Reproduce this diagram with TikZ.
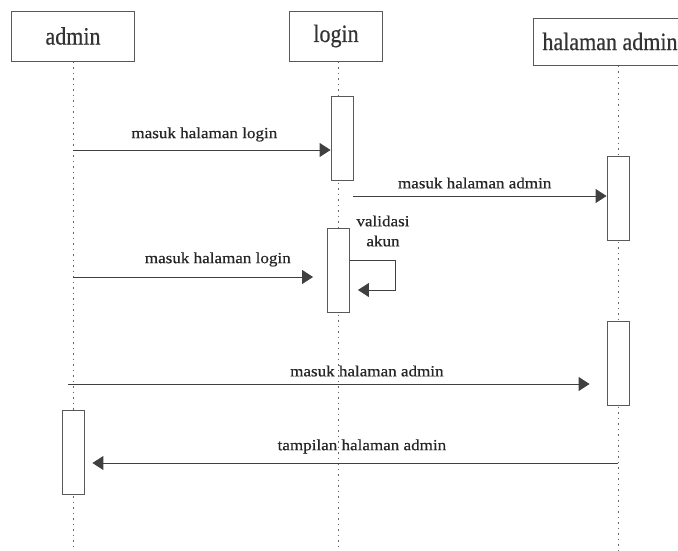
\documentclass[tikz,border=0pt]{standalone}
\usepackage{fontspec}
\setmainfont{Liberation Serif}
\newfontfamily\headfont{Liberation Serif}[FakeStretch=0.88,FakeBold=0.6]
\newfontfamily\msgfont{Liberation Serif}[FakeStretch=1.1,FakeBold=0.5]
\usetikzlibrary{arrows.meta}

\begin{document}
\begin{tikzpicture}[x=1pt,y=-1pt,>={Triangle[length=11pt,width=14pt]},
	head/.style={shape=rectangle,draw=black!65,line width=1pt,minimum height=50pt,text=black!80,font=\headfont\fontsize{25}{28}\selectfont},
	act/.style={shape=rectangle,draw=black!65,line width=0.9pt,fill=white,minimum width=22pt,minimum height=84pt,inner sep=0pt},
	lifeline/.style={draw=black!60,line width=0.9pt,dash pattern=on 1.5pt off 4pt},
	msg/.style={draw=black!75,line width=1pt,->},
	lbl/.style={text=black!85,font=\msgfont\fontsize{15.5}{18}\selectfont,inner sep=1pt}]
	\useasboundingbox (0,0) rectangle (678,550);
	% heads
	\node (admin) [head,minimum width=123pt] at (73,36) {admin};
	\node (login) [head,minimum width=93pt] at (336,36) {login};
	\node (halaman) [head,minimum width=154pt,minimum height=47pt] at (610,41.5) {halaman admin};
	% lifelines
	\coordinate (admin end) at (73,550);
	\coordinate (login end) at (338,550);
	\coordinate (halaman end) at (618,550);
	\draw[lifeline] (admin.south) -- (admin end);
	\draw[lifeline] (login.south -| login end) -- (login end);
	\draw[lifeline] (halaman.south -| halaman end) -- (halaman end);
	% activations
	\node (login act1) [act] at (342,138) {};
	\node (halaman act1) [act] at (618,198.5) {};
	\node (login act2) [act] at (338.5,270.5) {};
	\node (halaman act2) [act] at (618,363.5) {};
	\node (admin act) [act] at (73,452) {};
	% messages
	\coordinate (m1) at (73,150);
	\coordinate (m2) at (353,196);
	\coordinate (m3) at (73,277);
	\coordinate (m4) at (68,384);
	\coordinate (m5) at (618,463);
	\path (m1) edge[msg] node[lbl,above=7pt,pos=0.51] {masuk halaman login} (m1 -| login act1.west);
	\path (m2) edge[msg] node[lbl,above=6pt,pos=0.48] {masuk halaman admin} (m2 -| halaman act1.west);
	\path (m3) edge[msg,shorten >=14pt] node[lbl,above=9pt,pos=0.57] {masuk halaman login} (m3 -| login act2.west);
	\path (m4) edge[msg,shorten >=17pt] node[lbl,above=6pt,pos=0.555] {masuk halaman admin} (m4 -| halaman act2.west);
	\path (m5) edge[msg,shorten >=8pt] node[lbl,above=8pt,pos=0.48] {tampilan halaman admin} (m5 -| admin act.east);
	% self call
	\coordinate (loop a) at (login act2.east |- 0,260);
	\coordinate (loop b) at (395,260);
	\coordinate (loop c) at (395,290);
	\coordinate (loop d) at (login act2.east |- 0,290);
	\draw[msg,shorten >=8pt] (loop a) -- (loop b) -- (loop c) -- (loop d);
	\node (validasi) [lbl,align=center] at (383,231) {validasi\\[2pt]akun};
\end{tikzpicture}
\end{document}
